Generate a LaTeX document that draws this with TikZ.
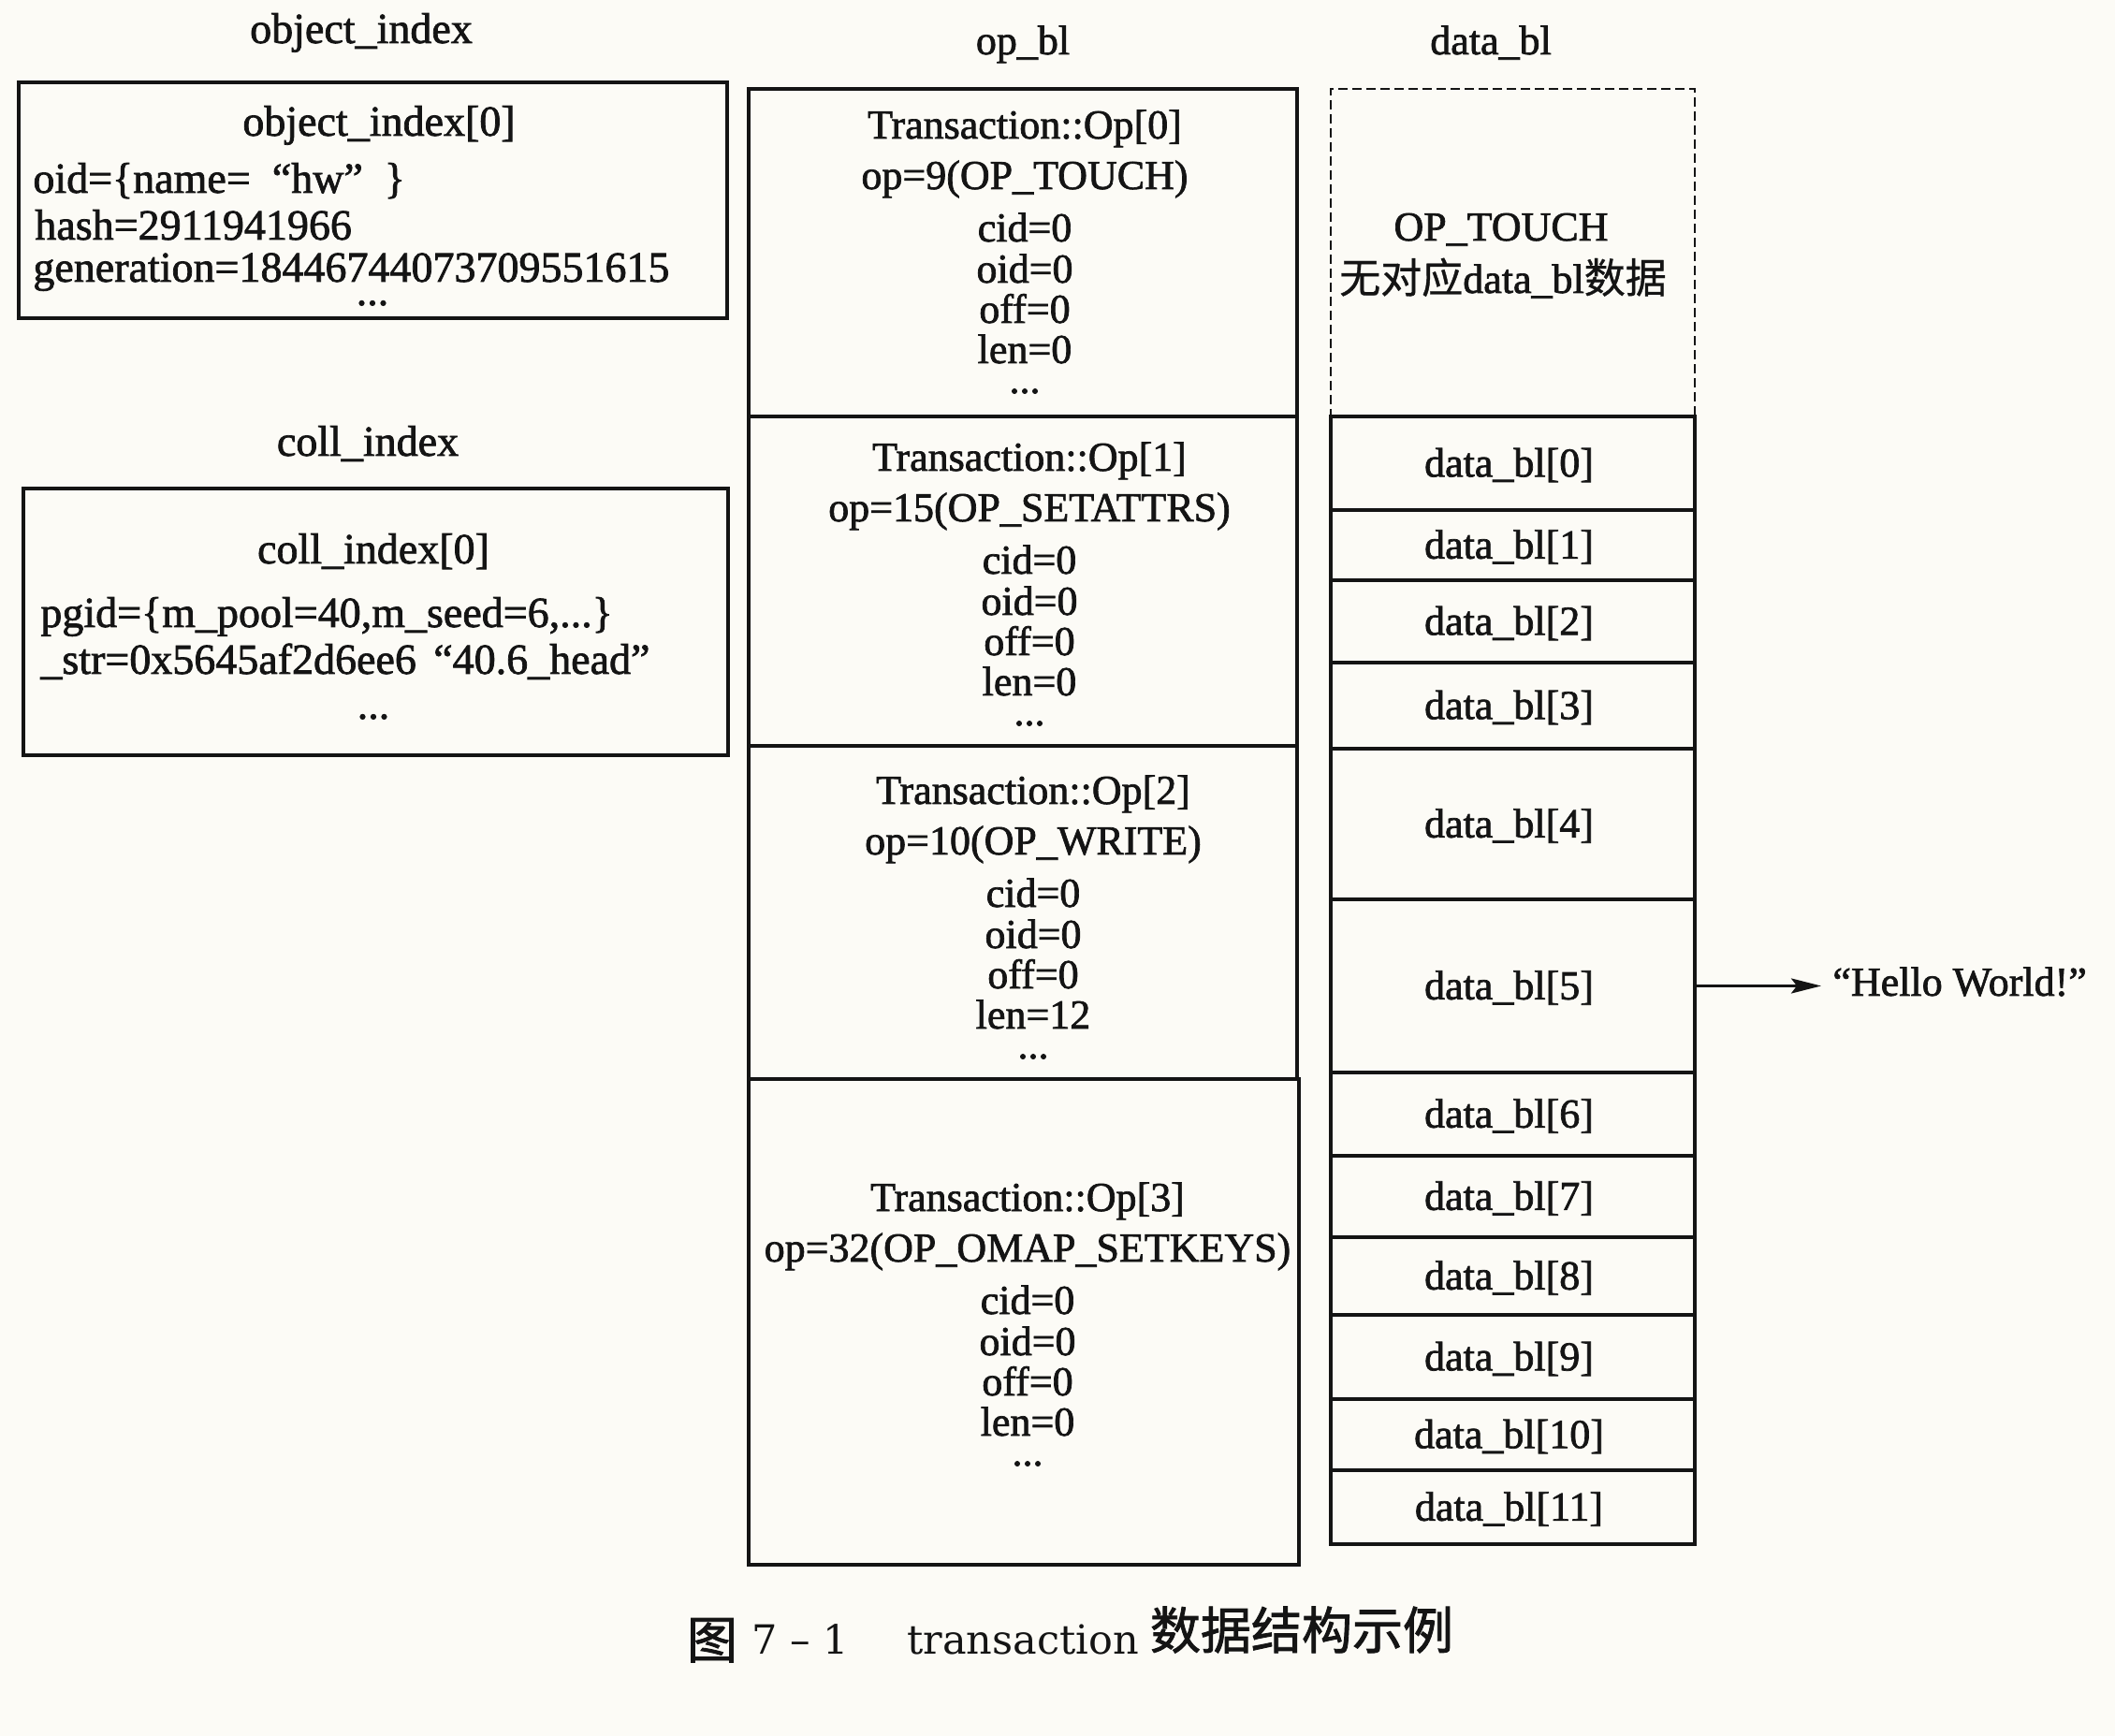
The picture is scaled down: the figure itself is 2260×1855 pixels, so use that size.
\documentclass[tikz,border=0pt]{standalone}
\usepackage{fontspec}
\setmainfont{Liberation Serif}[BoldFont={Liberation Serif}, BoldFeatures={FakeBold=1.6}]
\newfontfamily\cjk{Noto Sans CJK SC}[BoldFont={Noto Sans CJK SC}, BoldFeatures={FakeBold=0.8}]
\newfontfamily\cjkcapfont{Noto Sans CJK SC}[BoldFont={Noto Sans CJK SC}, BoldFeatures={FakeBold=1.6}]
\newfontfamily\capfont{DejaVu Serif}
\usetikzlibrary{fit,arrows.meta}
\definecolor{paper}{RGB}{252,251,246}
\definecolor{ink}{RGB}{20,20,20}
\tikzset{
  cellbox/.style={draw=ink, line width=2.3pt, inner sep=0pt},
  dashbox/.style={draw=ink, line width=1.3pt, dash pattern=on 5pt off 2.5pt, inner sep=0pt},
  txt/.style={inner sep=0pt, text=ink, font=\bfseries\fontsize{22pt}{26pt}\selectfont, anchor=base},
  ltxt/.style={txt, font=\bfseries\fontsize{23pt}{27pt}\selectfont},
  ltxtw/.style={ltxt, anchor=base west},
  dlabel/.style={txt, anchor=center},
  arr/.style={draw=ink, line width=1.5pt, -{Stealth[length=16pt,width=8pt,inset=3pt]}},
  cjkcap/.style={inner sep=0pt, text=ink, anchor=base, font=\cjkcapfont\bfseries\fontsize{27pt}{30pt}\selectfont},
  latcap/.style={inner sep=0pt, text=ink, anchor=base, font=\capfont\fontsize{21.5pt}{26pt}\selectfont}
}
\newcommand\opcell[6]{%
  \node[txt] (#1t) at (#2,#3) {#4};
  \node[txt] (#1o) at (#2,#3+54) {#5};
  \node[txt] (#1c) at (#2,#3+110) {cid=0};
  \node[txt] (#1i) at (#2,#3+154) {oid=0};
  \node[txt] (#1f) at (#2,#3+197) {off=0};
  \node[txt] (#1l) at (#2,#3+240) {len=#6};
  \node[txt] (#1d) at (#2,#3+272) {...};
}
\begin{document}
\begin{tikzpicture}[x=0.5pt,y=-0.5pt]
\useasboundingbox[fill=paper] (0,0) rectangle (2260,1855);

% titles
\node[ltxt] (tobj) at (386,46) {object\_index};
\node[txt] (top) at (1093,58) {op\_bl};
\node[txt] (tdata) at (1593,58) {data\_bl};
\node[ltxt] (tcoll) at (393,487) {coll\_index};

% object_index box
\node[cellbox, fit={(20,88) (777,340)}] (objbox) {};
\node[ltxt] (obj0) at (405,145) {object\_index[0]};
\node[ltxtw] (obj1) at (35,206) {oid=\{name=\hspace{0.5em}“hw”\hspace{0.5em}\}};
\node[ltxtw] (obj2) at (37,256) {hash=2911941966};
\node[ltxtw] (obj3) at (35,301) {generation=18446744073709551615};
\node[ltxt] (objd) at (398,326) {...};

% coll_index box
\node[cellbox, fit={(25,522) (778,807)}] (collbox) {};
\node[ltxt] (coll0) at (399,602) {coll\_index[0]};
\node[ltxtw] (coll1) at (43,670) {pgid=\{m\_pool=40,m\_seed=6,...\}};
\node[ltxtw] (coll2) at (43,720) {\_str=0x5645af2d6ee6\hspace{0.4em}“40.6\_head”};
\node[ltxt] (colld) at (399,768) {...};

% op_bl column
\node[cellbox, fit={(800,95) (1386,445)}] (op0) {};
\node[cellbox, fit={(800,445) (1386,797)}] (op1) {};
\node[cellbox, fit={(800,797) (1386,1153)}] (op2) {};
\node[cellbox, fit={(800,1153) (1388,1672)}] (op3) {};
\opcell{opa}{1095}{148}{Transaction::Op[0]}{op=9(OP\_TOUCH)}{0}
\opcell{opb}{1100}{503}{Transaction::Op[1]}{op=15(OP\_SETATTRS)}{0}
\opcell{opc}{1104}{859}{Transaction::Op[2]}{op=10(OP\_WRITE)}{12}
\opcell{opd}{1098}{1294}{Transaction::Op[3]}{op=32(OP\_OMAP\_SETKEYS)}{0}

% data_bl column
\node[dashbox, fit={(1422,95) (1811,445)}] (touch) {};
\node[txt] (touch1) at (1604,257) {OP\_TOUCH};
\node[txt] (touch2) at (1606,313) {{\cjk\bfseries 无对应}data\_bl{\cjk\bfseries 数据}};
\foreach \i/\ya/\yb in {0/445/545, 1/545/620, 2/620/708, 3/708/800, 4/800/961,
  5/961/1146, 6/1146/1235, 7/1235/1322, 8/1322/1405, 9/1405/1495,
  10/1495/1571, 11/1571/1650}{
  \node[cellbox, fit={(1422,\ya) (1811,\yb)}] (d\i) {};
  \node[dlabel] (dl\i) at ([xshift=-2pt,yshift=-1pt]d\i.center) {data\_bl[\i]};
}

% Hello World
\node[txt, anchor=west] (hw) at (1958,1049) {“Hello World!”};
\draw[arr] (d5.east) -- ([xshift=-6pt]d5.east -| hw.west);

% caption
\node[cjkcap] (cap1) at (761,1772) {图};
\node[latcap] (cap2) at (855,1767) {7 – 1};
\node[latcap] (cap3) at (1093,1767) {transaction};
\node[cjkcap] (cap4) at (1391,1762) {数据结构示例};
\end{tikzpicture}
\end{document}
